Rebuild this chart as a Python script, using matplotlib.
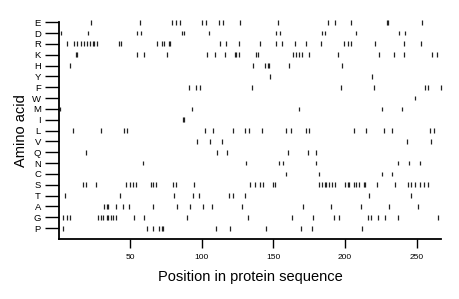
import matplotlib
matplotlib.use("Agg")
import matplotlib.pyplot as plt

amino_acids = ["E", "D", "R", "K", "H", "Y", "F", "W", "M", "I",
               "L", "V", "Q", "N", "C", "S", "T", "A", "G", "P"]

E = [23, 57, 79, 82, 85, 100, 103, 112, 115, 127, 153, 188, 193, 204, 229, 230, 254]
D = [2, 21, 55, 58, 86, 88, 105, 152, 155, 184, 186, 208, 238, 242]
R = [6, 11, 13, 16, 18, 20, 22, 24, 25, 27, 42, 44, 69, 72, 74, 77, 78, 113, 117, 126,
     141, 152, 156, 165, 173, 183, 199, 202, 204, 221, 241, 253]
K = [12, 13, 55, 60, 76, 104, 109, 116, 123, 124, 126, 138, 139, 164, 166, 168, 170,
     175, 195, 224, 234, 241, 261, 264]
H = [8, 136, 144, 146, 147, 161, 198]
Y = [148, 219]
F = [91, 96, 99, 135, 197, 220, 256, 258, 267]
W = [249]
M = [1, 93, 168, 226, 240]
I = [87, 88]
L = [10, 30, 46, 48, 102, 108, 122, 130, 133, 142, 159, 162, 173, 175, 206, 215, 227,
     233, 259, 262]
V = [97, 106, 114, 243, 260]
Q = [19, 111, 118, 160, 174, 180]
N = [59, 131, 154, 157, 180, 237, 245, 252]
C = [159, 182, 226, 233]
S = [17, 19, 26, 47, 50, 52, 54, 65, 66, 68, 80, 82, 95, 134, 137, 141, 143, 150, 151,
     182, 184, 186, 187, 189, 191, 193, 200, 202, 203, 206, 208, 210, 213, 214, 222, 235,
     244, 246, 249, 252, 255, 258]
T = [5, 43, 81, 94, 98, 119, 122, 130, 217, 246]
A = [32, 34, 35, 40, 45, 49, 66, 83, 92, 101, 107, 128, 171, 190, 211, 231, 251]
G = [3, 6, 8, 28, 30, 31, 34, 35, 37, 38, 40, 53, 60, 90, 132, 163, 178, 192, 196, 216,
     218, 223, 228, 237, 265]
P = [3, 62, 66, 70, 72, 73, 110, 120, 145, 169, 177, 212]

positions = {"E": E, "D": D, "R": R, "K": K, "H": H, "Y": Y, "F": F, "W": W, "M": M,
             "I": I, "L": L, "V": V, "Q": Q, "N": N, "C": C, "S": S, "T": T, "A": A,
             "G": G, "P": P}
x_ticks = [50, 100, 150, 200, 250]

plt.rcParams["font.family"] = ["Liberation Sans", "DejaVu Sans"]

fig = plt.figure(figsize=(4.6, 2.99), dpi=100)
ax = fig.add_axes([0.1283, 0.2007, 0.8304, 0.7270])

n = len(amino_acids)
for i, aa in enumerate(amino_acids):
    yv = n - 1 - i
    ax.vlines(positions[aa], yv - 0.22, yv + 0.22, colors="#222222",
              linewidth=0.9, clip_on=False)

ax.set_xlim(0.5, 267)
ax.set_ylim(-1, 19.05)
ax.set_yticks(range(n - 1, -1, -1))
ax.set_yticklabels(amino_acids, fontsize=6.8)
ax.set_xticks(x_ticks)
ax.set_xticklabels([str(t) for t in x_ticks], fontsize=6)

for s in ["top", "right"]:
    ax.spines[s].set_visible(False)
for s in ["left", "bottom"]:
    ax.spines[s].set_linewidth(1.3)

ax.tick_params(axis="y", length=10, width=1.0, pad=3)
ax.tick_params(axis="x", length=6.5, width=1.0, pad=4)

ax.set_xlabel("Position in protein sequence", fontsize=10.5, labelpad=7)
ax.set_ylabel("Amino acid", fontsize=10.5, labelpad=3)

fig.savefig("out.png", dpi=100)
